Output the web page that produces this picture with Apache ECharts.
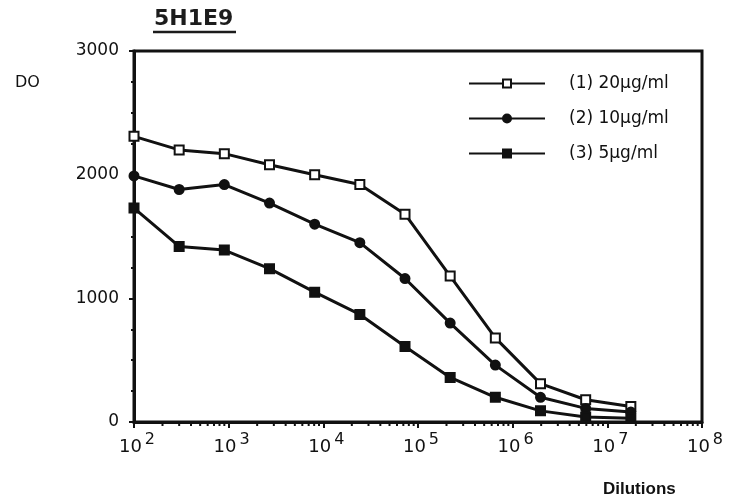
<!DOCTYPE html>
<html>
<head>
<meta charset="utf-8">
<script src="https://cdn.jsdelivr.net/npm/echarts@6/dist/echarts.min.js"></script>
<style>
  html, body { margin: 0; padding: 0; background: #fff; }
  #chart { width: 729px; height: 503px; }
</style>
</head>
<body>
<div id="chart"></div>
<script>
// Serial dilutions (1:3 steps starting at 1/100)
const dilutions = [100, 300, 900, 2700, 8100, 24300, 72900, 218700, 656100, 1968300, 5904900, 17714700];

// Optical density readings per antibody concentration
const do20 = [2310, 2200, 2170, 2080, 2000, 1920, 1680, 1180, 680, 310, 180, 125];
const do10 = [1990, 1880, 1920, 1770, 1600, 1450, 1160, 800, 460, 200, 110, 80];
const do5  = [1730, 1420, 1390, 1240, 1050, 870, 610, 360, 200, 90, 40, 30];

const seriesNames = ['(1) 20\u00b5g/ml', '(2) 10\u00b5g/ml', '(3) 5\u00b5g/ml'];
const yTicks = [0, 1000, 2000, 3000];

// Log-axis minor tick marks: 2..9 within each decade
const decades = [1e2, 1e3, 1e4, 1e5, 1e6, 1e7];
const minorSteps = [2, 3, 4, 5, 6, 7, 8, 9];
const minorTicks = [];
decades.forEach(d => minorSteps.forEach(m => minorTicks.push([d * m, 0])));

const pairs = vals => dilutions.map((d, i) => [d, vals[i]]);

const ink = '#111111';
const font = 'DejaVu Sans';

const chart = echarts.init(document.getElementById('chart'), null, { renderer: 'canvas' });

function lineSeries(name, vals, symbol) {
  return {
    name: name,
    type: 'line',
    data: pairs(vals),
    symbol: symbol,
    symbolSize: 9,
    showSymbol: true,
    z: 3,
    lineStyle: { color: ink, width: 3 },
    itemStyle: { color: ink, borderColor: ink, borderWidth: 2 },
    emphasis: { disabled: true },
    animation: false
  };
}

chart.setOption({
  backgroundColor: '#fff',
  animation: false,
  textStyle: { fontFamily: font, color: ink },
  grid: {
    left: 134, right: 27, top: 51, bottom: 81,
    show: true, borderColor: ink, borderWidth: 3, backgroundColor: 'transparent'
  },
  legend: {
    orient: 'vertical',
    left: 463, top: 70,
    itemWidth: 76, itemHeight: 10, itemGap: 18,
    textStyle: { fontFamily: font, fontSize: 17, color: ink, padding: [0, 0, 0, 19] },
    data: seriesNames,
    selectedMode: false
  },
  xAxis: {
    type: 'log',
    logBase: 10,
    min: 100,
    max: 1e8,
    axisLine: { show: true, lineStyle: { color: ink, width: 3 } },
    axisTick: { show: true, inside: false, length: 6, lineStyle: { color: ink, width: 2 } },
    minorTick: { show: false },
    splitLine: { show: false },
    axisLabel: {
      margin: 10,
      formatter: v => '{b|10}{s|' + Math.round(Math.log10(v)) + '}',
      rich: {
        b: { fontFamily: font, fontSize: 18, color: ink, verticalAlign: 'bottom', lineHeight: 24, padding: [8, 3, 0, 6] },
        s: { fontFamily: font, fontSize: 16, color: ink, verticalAlign: 'top', lineHeight: 24, padding: [0, 0, 8, 0] }
      }
    }
  },
  yAxis: {
    type: 'value',
    min: 0,
    max: 3000,
    interval: 1000,
    axisLine: { show: true, lineStyle: { color: ink, width: 3 } },
    axisTick: { show: true, inside: false, length: 5, lineStyle: { color: ink, width: 2 } },
    minorTick: { show: true, splitNumber: 4, length: 3, lineStyle: { color: ink, width: 2 } },
    splitLine: { show: false },
    axisLabel: { fontFamily: font, fontSize: 17, color: ink, margin: 15,
                 formatter: v => yTicks.includes(v) ? String(v) : '' }
  },
  graphic: [
    { type: 'text', left: 154, top: 8, style: { text: '5H1E9', fontFamily: font, fontSize: 22, fontWeight: 'bold', fill: '#1c1c1c' } },
    { type: 'line', shape: { x1: 153, y1: 32, x2: 236, y2: 32 }, style: { stroke: '#1c1c1c', lineWidth: 2.5 } },
    { type: 'text', left: 15, top: 75, style: { text: 'DO', fontFamily: font, fontSize: 16, fill: ink } },
    { type: 'text', left: 603, top: 481, style: { text: 'Dilutions', fontFamily: 'Liberation Sans', fontSize: 17, fontWeight: 'bold', fill: ink } }
  ],
  series: [
    lineSeries(seriesNames[0], do20, 'emptyRect'),
    lineSeries(seriesNames[1], do10, 'circle'),
    lineSeries(seriesNames[2], do5, 'rect'),
    {
      // short downward marks on the x axis for the log minor ticks
      type: 'custom',
      data: minorTicks,
      clip: false,
      silent: true,
      z: 1,
      renderItem: (params, api) => {
        const p = api.coord([api.value(0), 0]);
        return {
          type: 'line',
          shape: { x1: p[0], y1: p[1], x2: p[0], y2: p[1] + 4 },
          style: { stroke: ink, lineWidth: 2 }
        };
      }
    }
  ]
});
</script>
</body>
</html>
